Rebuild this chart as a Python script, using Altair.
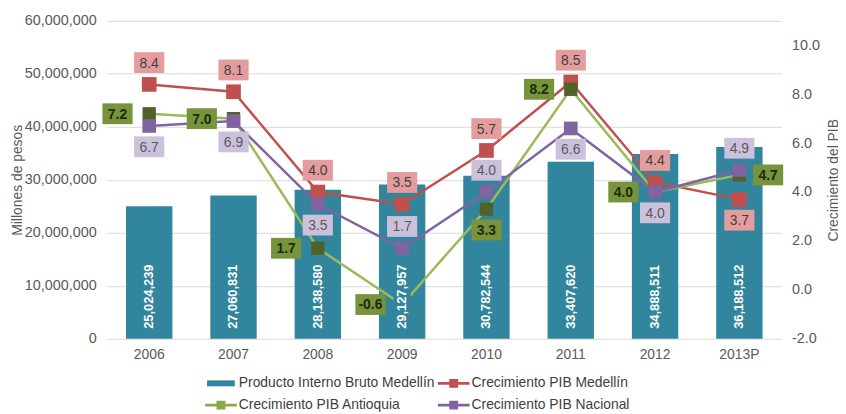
import altair as alt
import pandas as pd

# ---------------- data ----------------
years = ["2006", "2007", "2008", "2009", "2010", "2011", "2012", "2013P"]
pib_medellin = [25024239, 27060831, 28138580, 29127957, 30782544, 33407620, 34888511, 36188512]

crec_medellin = [8.4, 8.1, 4.0, 3.5, 5.7, 8.5, 4.4, 3.7]
crec_antioquia = [7.2, 7.0, 1.7, -0.6, 3.3, 8.2, 4.0, 4.7]
crec_nacional = [6.7, 6.9, 3.5, 1.7, 4.0, 6.6, 4.0, 4.9]

# label placement (category only)
pos_medellin = ["above", "above", "above", "above", "above", "above", "above", "below"]
pos_antioquia = ["left", "left", "left", "left", "below", "left", "left", "right"]
pos_nacional = ["below", "below", "below", "above", "above", "below", "below", "above"]

series_names = [
    "Producto Interno Bruto Medellín",
    "Crecimiento PIB Medellín",
    "Crecimiento PIB Antioquia",
    "Crecimiento PIB Nacional",
]

left_ticks = [0, 10000000, 20000000, 30000000, 40000000, 50000000, 60000000]
right_ticks = [-2, 0, 2, 4, 6, 8, 10]

FONT = "Liberation Sans"
BAR = "#31859c"
GRAY = "#595959"

# ---------------- tables ----------------
bars_df = pd.DataFrame({"year": years, "pib": pib_medellin})
bars_df["label"] = [f"{v:,}" for v in pib_medellin]

series_specs = [
    # name, values, positions, line color, marker color, marker size, box color, text color, weight
    ("Crecimiento PIB Medellín", crec_medellin, pos_medellin, "#c0504d", "#c0504d", 220, "#e49d9c", "#404040", "normal"),
    ("Crecimiento PIB Antioquia", crec_antioquia, pos_antioquia, "#9bbb59", "#4f6228", 180, "#77933c", "#1e2a0c", "bold"),
    ("Crecimiento PIB Nacional", crec_nacional, pos_nacional, "#8064a2", "#8064a2", 190, "#ccc1da", "#595959", "normal"),
]

rows = []
for name, vals, poss, *_ in series_specs:
    for y, v, p in zip(years, vals, poss):
        rows.append({"year": y, "series": name, "value": v, "pos": p, "label": f"{v:.1f}"})
growth_df = pd.DataFrame(rows)

offsets = {"above": (0, -22), "below": (0, 21), "left": (-32, 0), "right": (29, 0)}

# ---------------- encodings ----------------
x_enc = alt.X(
    "year:N",
    sort=years,
    scale=alt.Scale(paddingInner=0.45, paddingOuter=0.225),
    axis=alt.Axis(
        title=None, labelAngle=0, ticks=False, domain=False, labelPadding=9,
        labelColor=GRAY, labelFontSize=14, labelFont=FONT,
    ),
)

left_scale = alt.Scale(domain=[0, 60000000], nice=False)
y_left = alt.Y(
    "pib:Q",
    scale=left_scale,
    axis=alt.Axis(
        values=left_ticks, format=",.0f", title="Millones de pesos", grid=True,
        gridColor="#d9d9d9", gridWidth=1, domain=False, ticks=False,
        labelPadding=11, labelColor=GRAY, labelFontSize=14.5, labelFont=FONT,
        titleFont=FONT, titleFontSize=14, titleFontWeight="normal",
        titleColor=GRAY, titlePadding=0,
    ),
)
y_left_zero = alt.YDatum(0, scale=left_scale, axis=None)

right_scale = alt.Scale(domain=[-2, 11], nice=False, zero=False)
right_axis = alt.Axis(
    orient="right", values=right_ticks, grid=False, domain=False,
    labelExpr="replace(format(datum.value, '.1f'), '\u2212', '-')",
    ticks=False, labelPadding=10, labelColor=GRAY, labelFontSize=14.5, labelFont=FONT,
    title="Crecimiento del PIB", titleAngle=270, titleFont=FONT, titleFontSize=14,
    titleFontWeight="normal", titleColor=GRAY, titlePadding=21,
)
y_right = alt.Y("value:Q", scale=right_scale, axis=right_axis)
y_right_noaxis = alt.Y("value:Q", scale=right_scale, axis=None)

# ---------------- left (bars) ----------------
bars = alt.Chart(bars_df).mark_bar(color=BAR).encode(x=x_enc, y=y_left)

legend = alt.Legend(
    orient="none", legendX=105, legendY=356, columns=2, columnPadding=3,
    rowPadding=5, symbolSize=400, labelOffset=8, labelFontSize=14,
    labelFont=FONT, labelColor="#404040", title=None, symbolStrokeWidth=0,
    symbolOpacity=1, direction="horizontal", labelLimit=400,
)
legend_paths = [
    "M-1.4,-0.3H1.4V0.3H-1.4Z",
    "M-1.6,-0.14H1.6V0.14H-1.6Z M-0.45,-0.45H0.45V0.45H-0.45Z",
    "M-1.6,-0.14H1.6V0.14H-1.6Z M-0.45,-0.45H0.45V0.45H-0.45Z",
    "M-1.6,-0.14H1.6V0.14H-1.6Z M-0.45,-0.45H0.45V0.45H-0.45Z",
]
legend_layer = alt.Chart(pd.DataFrame({"series": series_names})).mark_point(
    filled=True, opacity=1
).encode(
    color=alt.Color("series:N", scale=alt.Scale(domain=series_names,
                    range=[BAR, "#c0504d", "#86aa48", "#8064a2"]), legend=legend),
    shape=alt.Shape("series:N", scale=alt.Scale(domain=series_names, range=legend_paths),
                    legend=legend),
).transform_filter("false")

left_bottom = alt.layer(bars, legend_layer)

# bar data labels (drawn above the lines, with a bar-coloured backing)
bar_label_bg = alt.Chart(bars_df).mark_point(
    shape="M-0.25,-1H0.25V1H-0.25Z", size=4624, filled=True, opacity=1,
    color=BAR, yOffset=-43,
).encode(x=x_enc, y=y_left_zero)
bar_text = alt.Chart(bars_df).mark_text(
    angle=270, align="left", baseline="middle", dx=10, color="white",
    fontSize=13, fontWeight="bold", font=FONT,
).encode(x=x_enc, y=y_left_zero, text="label:N")

# ---------------- right (growth lines) ----------------
line_layers, marker_layers, label_layers = [], [], []
for name, vals, poss, lcol, mcol, msize, bcol, tcol, weight in series_specs:
    base = alt.Chart(growth_df).transform_filter(alt.datum.series == name)
    line_layers.append(
        base.mark_line(color=lcol, strokeWidth=2.5).encode(x=x_enc, y=y_right)
    )
    marker_layers.append(
        base.mark_point(shape="square", filled=True, opacity=1, color=mcol, size=msize)
        .encode(x=x_enc, y=y_right)
    )
    for p in sorted(set(poss)):
        ox, oy = offsets[p]
        sub = base.transform_filter(alt.datum.pos == p)
        label_layers.append(
            sub.mark_point(
                shape="M-1.45,-1H1.45V1H-1.45Z", size=441, filled=True, opacity=1,
                color=bcol, xOffset=ox, yOffset=oy,
            ).encode(x=x_enc, y=y_right_noaxis)
        )
        label_layers.append(
            sub.mark_text(
                color=tcol, fontSize=14, font=FONT, fontWeight=weight,
                xOffset=ox, yOffset=oy + 1, baseline="middle", align="center",
            ).encode(x=x_enc, y=y_right_noaxis, text="label:N")
        )

right_lines = alt.layer(*line_layers, *marker_layers)
left_labels = alt.layer(bar_label_bg, bar_text)
right_labels = alt.layer(*label_layers)

chart = (
    alt.layer(left_bottom, right_lines, left_labels, right_labels)
    .resolve_scale(y="independent")
    .properties(
        width=681,
        height=321,
        autosize=alt.AutoSizeParams(type="none"),
        padding={"left": 100, "top": 11, "right": 57, "bottom": 74},
        background="white",
    )
    .configure_view(stroke=None)
)

chart.save("out.html", embed_options={"renderer": "svg", "actions": False})
